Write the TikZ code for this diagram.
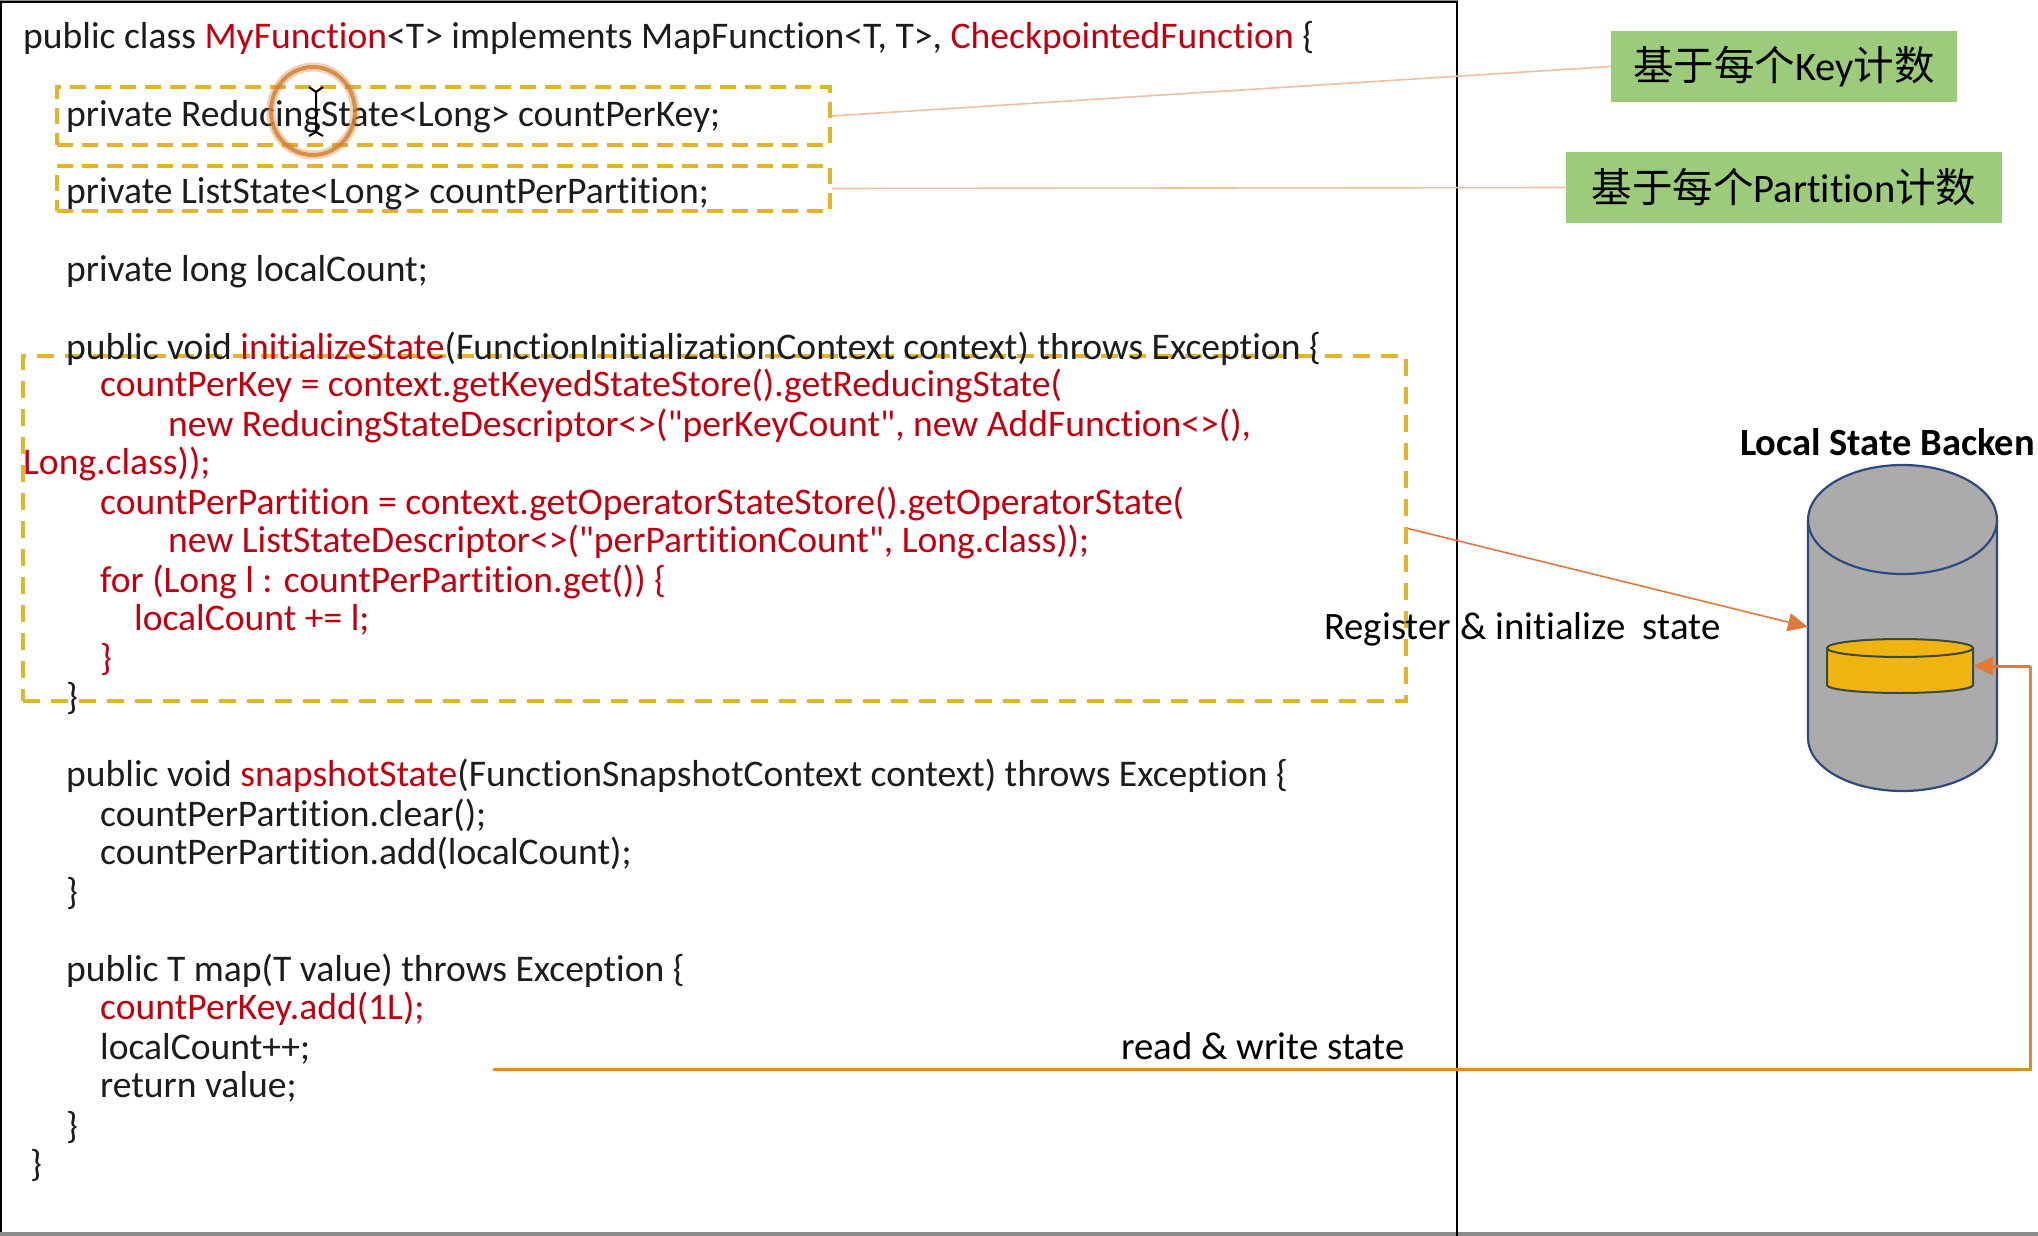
\documentclass[tikz,border=0pt]{standalone}
\usepackage{fontspec}
\setmainfont[Ligatures={NoCommon,TeXOff}]{Carlito}
\newfontfamily\cjk{Noto Sans CJK SC}
\usetikzlibrary{arrows.meta,calc}
\definecolor{codered}{HTML}{C00010}
\definecolor{codeblack}{HTML}{1C1C1C}
\definecolor{dashgold}{HTML}{E2B42A}
\definecolor{leafgreen}{HTML}{9CCB7C}
\definecolor{paleline}{HTML}{F0BFA0}
\definecolor{arroworange}{HTML}{E0793A}
\definecolor{thickorange}{HTML}{E08A2E}
\definecolor{cylgray}{HTML}{ABABAB}
\definecolor{cylblue}{HTML}{2E4A7D}
\definecolor{diskgold}{HTML}{EFB40F}
\definecolor{diskline}{HTML}{3A4A3A}
\newcommand\rd[1]{\textcolor{codered}{#1}}
\tikzset{
  codeline/.style={anchor=base west,inner sep=0pt,text=codeblack,font=\fontsize{37.6}{37.6}\selectfont},
  redline/.style={codeline,text=codered},
  labeltext/.style={anchor=base west,inner sep=0pt,text=black,font=\fontsize{38.8}{38.8}\selectfont},
  dashbox/.style={draw=dashgold,line width=4pt,dash pattern=on 16pt off 9pt,inner sep=0pt},
  greenbox/.style={fill=leafgreen,inner sep=0pt,text=black,font=\fontsize{40.5}{40.5}\selectfont},
  paleconn/.style={draw=paleline,line width=1.6pt},
  cylline/.style={draw=cylblue,line width=2.2pt},
}
\begin{document}
\begin{tikzpicture}[x=1pt,y=-1pt]
\useasboundingbox (0,0) rectangle (2038,1236);
\fill[white] (0,0) rectangle (2038,1236);
% frame
\fill[black!45] (0,1232) rectangle (2038,1236);
\fill[black!45] (0,0) rectangle (1458,1.5);
\draw[black,line width=2pt] (1,1232) -- (1,2.5) -- (1457,2.5) -- (1457,1236);
% dashed boxes
\node[dashbox,minimum width=773pt,minimum height=58pt] (boxa) at (443.5,116) {};
\node[dashbox,minimum width=773pt,minimum height=45pt] (boxb) at (443.5,188.5) {};
\node[dashbox,minimum width=1383pt,minimum height=345pt,dash pattern=on 17pt off 11pt] (boxc) at (714.5,528.5) {};
% code
\node[codeline] (c01) at (23,48.5) {public class \rd{MyFunction}<T> implements MapFunction<T, T>, \rd{CheckpointedFunction} \{};
\node[codeline] (c02) at (66,126.5) {private ReducingState<Long> countPerKey;};
\node[codeline] (c03) at (66,203.5) {private ListState<Long> countPerPartition;};
\node[codeline] (c04) at (66,281.5) {private long localCount;};
\node[codeline] (c05) at (66,359.5) {public void \rd{initializeState}(FunctionInitializationContext context) throws Exception \{};
\node[redline] (c06) at (100,396) {countPerKey = context.getKeyedStateStore().getReducingState(};
\node[redline] (c07) at (168,436) {new ReducingStateDescriptor<>("perKeyCount", new AddFunction<>(),};
\node[redline] (c08) at (23,474) {Long.class));};
\node[redline] (c09) at (100,514) {countPerPartition = context.getOperatorStateStore().getOperatorState(};
\node[redline] (c10) at (168,552) {new ListStateDescriptor<>("perPartitionCount", Long.class));};
\node[redline] (c11) at (100,592) {for (Long l : countPerPartition.get()) \{};
\node[redline] (c12) at (134,630) {localCount += l;};
\node[redline] (c13) at (100,670) {\}};
\node[codeline] (c14) at (66,709) {\}};
\node[codeline] (c15) at (66,786) {public void \rd{snapshotState}(FunctionSnapshotContext context) throws Exception \{};
\node[codeline] (c16) at (100,826) {countPerPartition.clear();};
\node[codeline] (c17) at (100,864) {countPerPartition.add(localCount);};
\node[codeline] (c18) at (66,904) {\}};
\node[codeline] (c19) at (66,981) {public T map(T value) throws Exception \{};
\node[redline] (c20) at (100,1019) {countPerKey.add(1L);};
\node[codeline] (c21) at (100,1059) {localCount++;};
\node[codeline] (c22) at (100,1097.5) {return value;};
\node[codeline] (c23) at (66,1138) {\}};
\node[codeline] (c24) at (30,1176) {\}};
% pointer highlight
\draw[draw=brown!70!orange,opacity=.35,line width=9pt] (313,111) ellipse [x radius=42,y radius=44];
\draw[draw=brown!75!orange,opacity=.8,line width=4pt] (313,111) ellipse [x radius=42,y radius=44];
\draw[black,line width=2pt] (316,92) -- (316,132) (309,87) -- (316,92) -- (323,87) (309,136) -- (316,132) -- (323,136);
% green notes
\node[greenbox,minimum width=346pt,minimum height=71pt] (notea) at (1784,66.5) {\raisebox{5pt}{{\cjk 基于每个}Key{\cjk 计数}}};
\node[greenbox,minimum width=436pt,minimum height=71pt] (noteb) at (1784,187.5) {\raisebox{5pt}{{\cjk 基于每个}Partition{\cjk 计数}}};
\draw[paleconn] (boxa.east) -- (notea.west);
\draw[paleconn] (boxb.east) -- (noteb.west);
% cylinder
\path[cylline,fill=cylgray] (1808,520) -- (1808,738) arc[start angle=180,end angle=0,x radius=94.5,y radius=53] -- (1997,520) arc[start angle=0,end angle=-180,x radius=94.5,y radius=55] -- cycle;
\draw[cylline] (1808,520) arc[start angle=180,end angle=0,x radius=94.5,y radius=54];
\coordinate (cylleft) at (1808,627);
% disk
\path[draw=diskline,line width=2pt,fill=diskgold] (1827,648) -- (1827,685) arc[start angle=180,end angle=0,x radius=73,y radius=8] -- (1973,648) arc[start angle=0,end angle=-180,x radius=73,y radius=9] -- cycle;
\draw[draw=diskline,line width=2pt] (1827,648) arc[start angle=180,end angle=0,x radius=73,y radius=9];
\coordinate (diskright) at (1973,666);
% labels
\node[labeltext] (lreg) at (1324,639) {Register \& initialize\ \ state};
\node[labeltext,font=\fontsize{38.5}{38.5}\selectfont\bfseries] (lback) at (1740,455) {Local State Backen};
\node[labeltext] (lrw) at (1121,1059) {read \& write state};
% arrows
\draw[arroworange,line width=1.6pt,-{Triangle[length=20pt,width=18pt]}] (boxc.east) -- (cylleft);
\coordinate (rwstart) at (493,1069);
\coordinate (rwcorner) at (2030,1069);
\coordinate (rwtop) at (2030,666);
\draw[thickorange,line width=3pt] (rwstart) -- (rwcorner) -- (rwtop);
\draw[arroworange,line width=3pt,-{Triangle[length=20pt,width=18pt]}] (rwtop) -- (diskright);
\end{tikzpicture}
\end{document}
